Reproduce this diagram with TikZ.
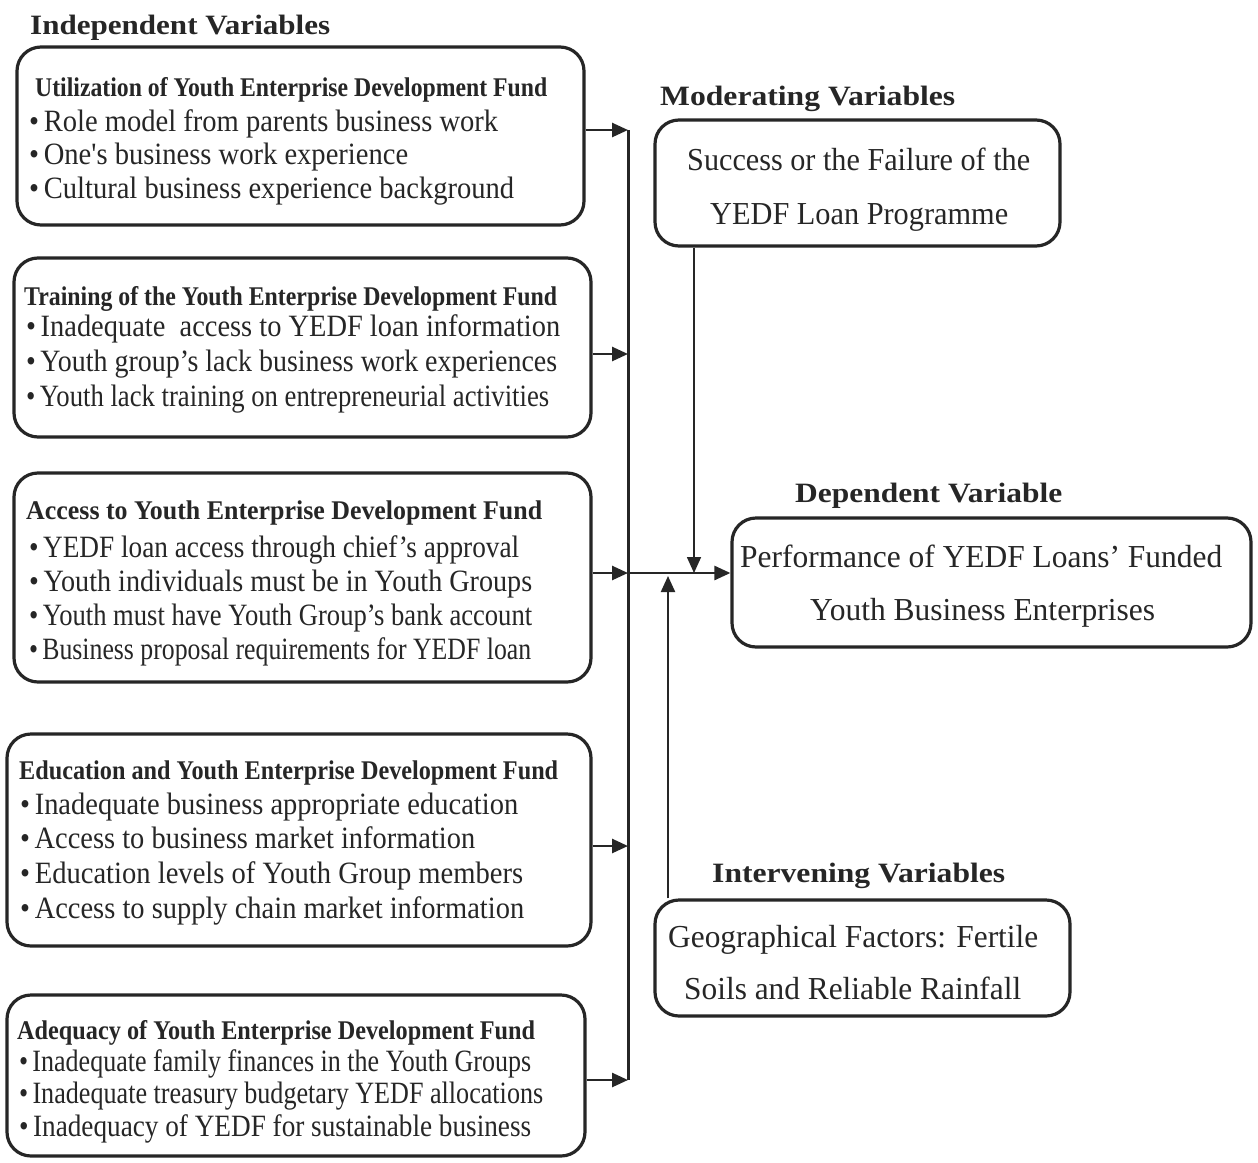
\documentclass[tikz,border=0pt]{standalone}
\usepackage{fontspec}
\usepackage{graphicx}
\setmainfont{Liberation Serif}[Ligatures=TeXOff]
\usetikzlibrary{arrows.meta}
\definecolor{ink}{HTML}{262626}
\newcommand\fitline[2]{\resizebox{#1pt}{\height}{#2}}
\newcommand\bul{\textbullet\hspace{5pt}}
\tikzset{
  box/.style={draw=ink, line width=3.2pt, rounded corners=24pt, inner sep=0pt, rectangle},
  txt/.style={inner sep=0pt, anchor=base west, text=ink},
  bodyfont/.style={font=\fontsize{31}{35}\selectfont},
  headfont/.style={font=\fontsize{27}{30}\selectfont\bfseries},
  titlefont/.style={font=\fontsize{28}{32}\selectfont\bfseries},
  rightfont/.style={font=\fontsize{32}{36}\selectfont},
  arr/.style={draw=ink, line width=2.6pt, -{Triangle[length=16pt,width=14pt]}},
  bus/.style={draw=ink, line width=3pt},
  thinarr/.style={draw=ink, line width=1.6pt, -{Triangle[length=16pt,width=14pt]}},
  midarr/.style={draw=ink, line width=2.2pt, -{Triangle[length=16pt,width=14pt]}}
}
\begin{document}
\begin{tikzpicture}[x=1pt,y=-1pt]
\useasboundingbox[fill=white] (0,0) rectangle (1258,1162);

% boxes
\node[box, minimum width=567pt, minimum height=178pt] (b1) at (300.5,136) {};
\node[box, minimum width=577pt, minimum height=179pt] (b2) at (302.5,347.5) {};
\node[box, minimum width=577pt, minimum height=209pt] (b3) at (302.5,577.5) {};
\node[box, minimum width=584pt, minimum height=212pt] (b4) at (299,840) {};
\node[box, minimum width=578pt, minimum height=161pt] (b5) at (296,1075.5) {};
\node[box, minimum width=405pt, minimum height=126pt] (mod) at (857.5,183) {};
\node[box, minimum width=519pt, minimum height=129pt] (dep) at (991.5,582.5) {};
\node[box, minimum width=415pt, minimum height=116pt] (int) at (862.5,958) {};

% titles
\node[txt, titlefont] (tind) at (30,34) {\fitline{300}{Independent Variables}};
\node[txt, titlefont] (tmod) at (660,105) {\fitline{295}{Moderating Variables}};
\node[txt, titlefont] (tdep) at (795,502) {\fitline{267}{Dependent Variable}};
\node[txt, titlefont] (tint) at (712,882) {\fitline{293}{Intervening Variables}};

% box 1
\node[txt, headfont] (h1) at (35,96) {\fitline{512}{Utilization of Youth Enterprise Development Fund}};
\node[txt, bodyfont] (l11) at (29,131) {\fitline{469}{\bul Role model from parents business work}};
\node[txt, bodyfont] (l12) at (29,164) {\fitline{379}{\bul One's business work experience}};
\node[txt, bodyfont] (l13) at (29,198) {\fitline{485}{\bul Cultural business experience background}};

% box 2
\node[txt, headfont] (h2) at (24,305) {\fitline{533}{Training of the Youth Enterprise Development Fund}};
\node[txt, bodyfont] (l21) at (26,336) {\fitline{534}{\bul Inadequate\ \ access to YEDF loan information}};
\node[txt, bodyfont] (l22) at (26,371) {\fitline{531}{\bul Youth group’s lack business work experiences}};
\node[txt, bodyfont] (l23) at (26,406) {\fitline{523}{\bul Youth lack training on entrepreneurial activities}};

% box 3
\node[txt, headfont] (h3) at (26,519) {\fitline{516}{Access to Youth Enterprise Development Fund}};
\node[txt, bodyfont] (l31) at (29,557) {\fitline{490}{\bul YEDF loan access through chief’s approval}};
\node[txt, bodyfont] (l32) at (29,591) {\fitline{503}{\bul Youth individuals must be in Youth Groups}};
\node[txt, bodyfont] (l33) at (29,625) {\fitline{503}{\bul Youth must have Youth Group’s bank account}};
\node[txt, bodyfont] (l34) at (29,659) {\fitline{502}{\bul Business proposal requirements for YEDF loan}};

% box 4
\node[txt, headfont] (h4) at (19,779) {\fitline{539}{Education and Youth Enterprise Development Fund}};
\node[txt, bodyfont] (l41) at (20,814) {\fitline{498}{\bul Inadequate business appropriate education}};
\node[txt, bodyfont] (l42) at (20,848) {\fitline{455}{\bul Access to business market information}};
\node[txt, bodyfont] (l43) at (20,883) {\fitline{503}{\bul Education levels of Youth Group members}};
\node[txt, bodyfont] (l44) at (20,918) {\fitline{504}{\bul Access to supply chain market information}};

% box 5
\node[txt, headfont] (h5) at (17,1039) {\fitline{518}{Adequacy of Youth Enterprise Development Fund}};
\node[txt, bodyfont] (l51) at (19,1071) {\fitline{512}{\bul Inadequate family finances in the Youth Groups}};
\node[txt, bodyfont] (l52) at (19,1103) {\fitline{524}{\bul Inadequate treasury budgetary YEDF allocations}};
\node[txt, bodyfont] (l53) at (19,1136) {\fitline{512}{\bul Inadequacy of YEDF for sustainable business}};

% right boxes text
\node[txt, rightfont] (m1) at (687,170) {\fitline{343}{Success or the Failure of the}};
\node[txt, rightfont] (m2) at (710,224) {\fitline{298}{YEDF Loan Programme}};
\node[txt, rightfont] (d1) at (740,567) {\fitline{482}{Performance of YEDF Loans’ Funded}};
\node[txt, rightfont] (d2) at (810,620) {\fitline{345}{Youth Business Enterprises}};
\node[txt, rightfont] (i1) at (668,947) {\fitline{370}{Geographical Factors: Fertile}};
\node[txt, rightfont] (i2) at (684,999) {\fitline{337}{Soils and Reliable Rainfall}};

% connectors
\coordinate (j1) at (628,130);
\coordinate (j2) at (628,354);
\coordinate (j3) at (628,573);
\coordinate (j4) at (628,846);
\coordinate (j5) at (628,1080);
\coordinate (mx) at (694,573);
\coordinate (ix) at (668,576);

\draw[bus] (j1) -- (j5);
\draw[arr] (b1.east |- j1) -- (j1);
\draw[arr] (b2.east |- j2) -- (j2);
\draw[arr] (b3.east |- j3) -- (j3);
\draw[arr] (b4.east |- j4) -- (j4);
\draw[arr] (b5.east |- j5) -- (j5);
\draw[arr] (j3) -- (dep.west |- j3);
\draw[thinarr] (mod.south -| mx) -- (mx);
\draw[midarr] (int.north -| ix) -- (ix);
\end{tikzpicture}
\end{document}
